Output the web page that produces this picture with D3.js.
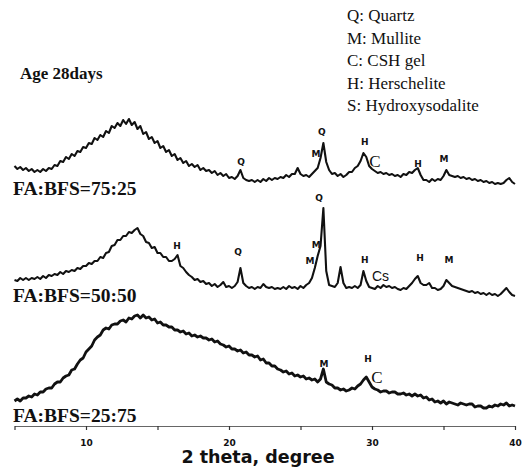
<!DOCTYPE html>
<html>
<head>
<meta charset="utf-8">
<script src="https://cdn.jsdelivr.net/npm/d3@7"></script>
<style>
  body { margin: 0; background: #fff; }
  svg { display: block; }
</style>
</head>
<body>
<div id="container"></div>
<script>
/* ---------- CONSTANTS AND GLOBALS ---------- */
const width = 531,
  height = 469,
  margin = { left: 14.5, right: 16, bottom: 43 };
const serif = "Liberation Serif, Times New Roman, serif",
  sans = "DejaVu Sans, Verdana, sans-serif";

/* ---------- DATA ---------- */
// 2 theta grid 5.0 .. 40.0 deg, step 0.2 -> 176 readings per pattern
const thetaStart = 5, thetaEnd = 40, thetaStep = 0.2;

// intensities (a.u.), one row per degree
const i7525 = [
  20,17,19,16,18,  15,17,14,16,14,  17,15,18,17,21,  20,25,24,29,27,   // 5-8
  32,30,35,34,39,  38,43,42,48,46,  51,49,55,53,60,  58,63,60,66,62,   // 9-12
  67,61,64,57,60,  52,54,47,49,43,  45,38,40,34,36,  30,32,26,28,23,   // 13-16
  25,20,22,19,21,  16,18,15,16,13,  15,11,13,10,12,  8,9,7,10,16,      // 17-20
  8,6,5,6,4,       6,4,7,5,8,       6,8,7,9,8,       11,9,12,12,18,    // 21-24
  12,10,11,9,12,   15,18,28,43,24,  16,12,13,10,12,  9,11,14,14,18,    // 25-28
  20,25,33,29,20,  17,15,13,14,12,  13,11,12,10,11,  9,12,11,14,13,    // 29-32
  16,18,11,6,6,    4,7,5,7,6,       10,16,11,10,9,   10,8,9,7,8,       // 33-36
  6,7,5,6,4,       5,3,4,2,3,       2,3,6,8,4,       2                 // 37-40
];
const i5050 = [
  16,15,18,16,18,  16,18,17,19,17,  20,18,21,20,22,  21,24,22,25,24,   // 5-8
  26,25,28,27,30,  30,33,32,35,35,  39,38,43,44,50,  51,56,56,60,60,   // 9-12
  64,63,66,68,62,  60,54,53,48,49,  43,43,39,39,35,  35,37,41,30,28,   // 13-16
  24,21,19,16,17,  14,15,12,13,10,  12,9,11,14,9,    10,8,10,14,28,    // 17-20
  13,10,8,9,7,     9,8,12,9,8,      9,7,8,7,9,       7,10,8,9,7,       // 21-24
  10,8,11,13,18,   28,40,50,88,25,  11,10,9,13,29,   13,8,9,8,10,      // 25-28
  8,11,25,15,9,    8,7,10,8,11,     9,10,8,9,7,      6,8,7,10,13,      // 29-32
  17,20,13,11,11,  13,8,8,6,7,      10,16,13,10,9,   8,7,6,5,4,        // 33-36
  5,3,4,2,3,       1,3,1,2,0,       2,5,8,4,1,       0                 // 37-40
];
const i2575 = [
  25,27,25,28,28,       30,29,32,31,34,      34,37,38,38,42,       44,44,48,50,51,      // 5-8
  56,57,62,66,68,       74,77,80,86,89,      91,96,98,97,101,      102,102,105,106,104, // 9-12
  108,107,110,111,108,  111,108,109,106,107, 103,104,101,101,99,   99,96,96,94,95,      // 13-16
  92,93,90,91,89,       90,88,88,86,87,      84,85,82,81,79,       80,77,77,75,76,      // 17-20
  73,74,71,71,69,       70,66,67,63,63,      60,60,57,56,54,       55,52,53,50,51,      // 21-24
  49,50,47,48,46,       47,44,47,57,44,      42,41,38,38,36,       37,35,36,38,37,      // 25-28
  40,42,46,49,44,       39,37,36,34,35,      35,33,34,34,32,       32,33,31,32,30,      // 29-32
  32,30,31,28,29,       26,27,24,25,23,      25,22,24,23,22,       21,23,22,21,22,      // 33-36
  22,19,20,20,18,       18,20,19,21,20,      22,21,23,20,21,       20                   // 37-40
];

const sampleNames = ["FA:BFS=75:25", "FA:BFS=50:50", "FA:BFS=25:75"];
const sampleOffsets = [240, 130, 0];      // vertical stacking, a.u.
const nameLevels = [-9, -6, 4];          // where the sample name sits, a.u. above offset

// phase marks: [letter, 2theta, height a.u. above the pattern offset]
const marks7525 = [
  ["Q", 20.84, 21], ["M", 26.08, 29.5], ["Q", 26.5, 51.5], ["H", 29.5, 41.5],
  ["C", 30.2, 19], ["H", 33.22, 19.5], ["M", 35.03, 24.5]
];
const marks5050 = [
  ["H", 16.36, 47], ["Q", 20.63, 41], ["M", 25.66, 32.5], ["M", 26.1, 48],
  ["Q", 26.3, 95], ["H", 29.5, 33.5], ["Cs", 30.0, 15], ["H", 33.36, 35.5],
  ["M", 35.38, 33]
];
const marks2575 = [["M", 26.64, 59], ["H", 29.72, 64], ["C", 30.35, 43]];

const phaseKey = ["Q: Quartz", "M: Mullite", "C: CSH gel", "H: Herschelite", "S: Hydroxysodalite"];
const ageLabel = "Age 28days";
const xTicks = [5, 10, 15, 20, 25, 30, 35, 40];
const xTitle = "2 theta, degree";

/* ---------- SCALES ---------- */
const theta = d3.range(0, i7525.length).map(i => thetaStart + i * thetaStep);

const xScale = d3.scaleLinear()
  .domain([thetaStart, thetaEnd])
  .range([margin.left, width - margin.right]);

const yScale = d3.scaleLinear()
  .domain([0, 426])
  .range([height - margin.bottom, 0]);

/* ---------- SVG ---------- */
const svg = d3.select("#container")
  .append("svg")
  .attr("width", width)
  .attr("height", height);

svg.append("rect").attr("width", width).attr("height", height).attr("fill", "#fff");

// + X AXIS
const xAxis = d3.axisBottom(xScale)
  .tickValues(xTicks)
  .tickSize(4)
  .tickSizeOuter(0)
  .tickPadding(10)
  .tickFormat(d => d % 10 === 0 ? d : "");

const gx = svg.append("g")
  .attr("transform", `translate(0,${yScale(0)})`)
  .call(xAxis);
gx.select(".domain").attr("stroke", "#666").attr("stroke-width", 1.2);
gx.selectAll(".tick line").attr("stroke", "#333").attr("stroke-width", 1.2);
gx.selectAll(".tick text")
  .attr("fill", "#111")
  .attr("font-family", sans)
  .attr("font-weight", "bold")
  .attr("font-size", 9);

svg.append("text")
  .attr("x", 258)
  .attr("y", 463)
  .attr("text-anchor", "middle")
  .attr("font-family", sans)
  .attr("font-weight", "bold")
  .attr("font-size", 17.5)
  .attr("fill", "#111")
  .text(xTitle);

// + PATTERNS
const patterns = [i7525, i5050, i2575];
const line = d3.line().x((d, i) => xScale(theta[i]));

patterns.forEach((vals, k) => {
  const off = sampleOffsets[k];
  svg.append("path")
    .datum(vals)
    .attr("fill", "none")
    .attr("stroke", "#111")
    .attr("stroke-width", k === 2 ? 2.8 : 2.1)
    .attr("stroke-linejoin", "round")
    .attr("d", line.y(d => yScale(d + off)));

  svg.append("text")
    .attr("x", xScale(thetaStart) - 1.5)
    .attr("y", yScale(off + nameLevels[k]))
    .attr("font-family", serif)
    .attr("font-weight", "bold")
    .attr("font-size", 19.5)
    .attr("fill", "#111")
    .text(sampleNames[k]);
});

// + PHASE MARKS
[marks7525, marks5050, marks2575].forEach((marks, k) => {
  const off = sampleOffsets[k];
  svg.append("g").selectAll("text")
    .data(marks)
    .join("text")
    .attr("x", d => xScale(d[1]))
    .attr("y", d => yScale(off + d[2]))
    .attr("text-anchor", d => d[0] === "Cs" ? "start" : "middle")
    .attr("font-family", d => d[0] === "C" ? serif : (d[0] === "Cs" ? "Liberation Sans, Arial, sans-serif" : sans))
    .attr("font-weight", d => d[0].length === 1 && d[0] !== "C" ? "bold" : "normal")
    .attr("font-size", d => d[0] === "C" ? 17 : (d[0] === "Cs" ? 14 : 9))
    .attr("fill", "#111")
    .text(d => d[0]);
});

// + KEY AND AGE
svg.append("g").selectAll("text")
  .data(phaseKey)
  .join("text")
  .attr("x", 347)
  .attr("y", (d, i) => 21 + i * 22.5)
  .attr("font-family", serif)
  .attr("font-size", 17)
  .attr("fill", "#111")
  .text(d => d);

svg.append("text")
  .attr("x", 20)
  .attr("y", 79)
  .attr("font-family", serif)
  .attr("font-weight", "bold")
  .attr("font-size", 17)
  .attr("fill", "#111")
  .text(ageLabel);
</script>
</body>
</html>
